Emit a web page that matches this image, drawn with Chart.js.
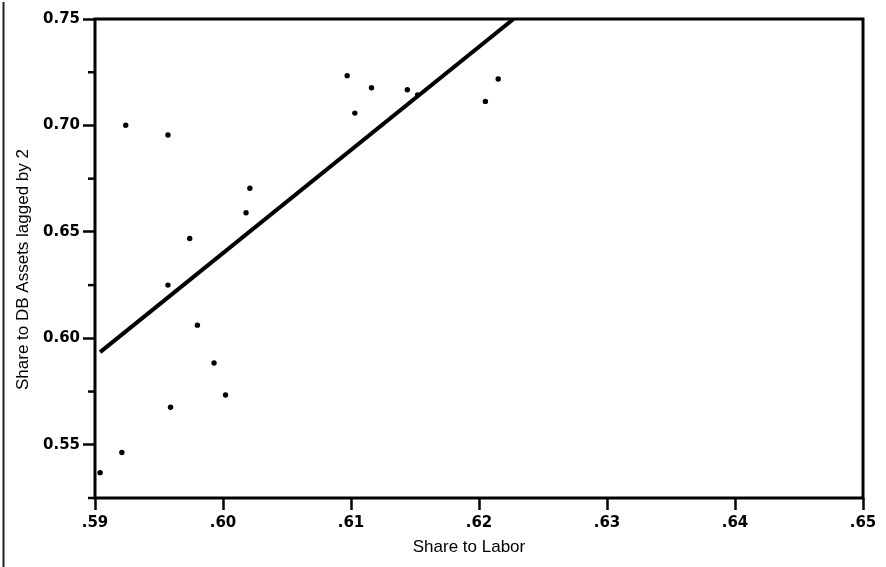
<!DOCTYPE html>
<html>
<head>
<meta charset="utf-8">
<script src="https://cdn.jsdelivr.net/npm/chart.js@4.4.1/dist/chart.umd.min.js"></script>
<style>
    html, body { margin: 0; padding: 0; background: #fff; }
    #wrap { width: 886px; height: 567px; }
</style>
</head>
<body>
<div id="wrap"><canvas id="scatterChart" width="886" height="567"></canvas></div>
<script>
// Share to labor vs. share to DB assets (lagged by 2)
const laborShare = [0.5904, 0.5921, 0.5924, 0.5957, 0.5957, 0.5959, 0.5974, 0.5980, 0.5993, 0.6002,
                    0.6018, 0.6021, 0.6097, 0.6103, 0.6116, 0.6144, 0.6152, 0.6205, 0.6215];
const dbAssetShare = [0.5369, 0.5464, 0.7001, 0.6955, 0.6250, 0.5676, 0.6469, 0.6062, 0.5884, 0.5734,
                      0.6590, 0.6705, 0.7234, 0.7058, 0.7177, 0.7168, 0.7143, 0.7113, 0.7218];

// fitted line, start and end
const fitX = [0.5904, 0.6227];
const fitY = [0.5935, 0.7500];

const xTicks = [0.59, 0.60, 0.61, 0.62, 0.63, 0.64, 0.65];
const yRange = [0.525, 0.75];

const xTitle = 'Share to Labor';
const yTitle = 'Share to DB Assets lagged by 2';

const points = laborShare.map((x, i) => ({ x: x, y: dbAssetShare[i] }));
const fitLine = fitX.map((x, i) => ({ x: x, y: fitY[i] }));

function isMajorY(v) {
    return Math.round(v * 1000) % 50 === 0;
}

// frame around the plot, short minor ticks on y, axis titles, left edge rule
const framePlugin = {
    id: 'frame',
    afterDraw(chart) {
        const { ctx, chartArea: a, scales } = chart;
        ctx.save();
        ctx.strokeStyle = '#000';
        ctx.lineWidth = 3;
        ctx.strokeRect(a.left, a.top, a.right - a.left, a.bottom - a.top);

        ctx.lineWidth = 2.5;
        scales.y.ticks.forEach(t => {
            if (isMajorY(t.value)) return;
            const py = scales.y.getPixelForValue(t.value);
            ctx.beginPath();
            ctx.moveTo(a.left - 7, py);
            ctx.lineTo(a.left, py);
            ctx.stroke();
        });

        ctx.fillStyle = '#000';
        ctx.font = '17px "Liberation Sans", Arial, sans-serif';
        ctx.textAlign = 'center';
        ctx.textBaseline = 'middle';
        ctx.fillText(xTitle, (a.left + a.right) / 2 - 10, 547);

        ctx.save();
        ctx.translate(23, (a.top + a.bottom) / 2 + 11);
        ctx.rotate(-Math.PI / 2);
        ctx.fillText(yTitle, 0, 0);
        ctx.restore();

        ctx.strokeStyle = '#222';
        ctx.lineWidth = 2;
        ctx.beginPath();
        ctx.moveTo(3.5, 2);
        ctx.lineTo(3.5, chart.height);
        ctx.stroke();
        ctx.restore();
    }
};

const whiteBg = {
    id: 'whiteBg',
    beforeDraw(chart) {
        const ctx = chart.ctx;
        ctx.save();
        ctx.fillStyle = '#fff';
        ctx.fillRect(0, 0, chart.width, chart.height);
        ctx.restore();
    }
};

const tickFont = { family: '"DejaVu Sans"', size: 15, weight: 'bold' };

new Chart(document.getElementById('scatterChart'), {
    type: 'scatter',
    data: {
        datasets: [
            {
                type: 'line',
                data: fitLine,
                borderColor: '#000',
                borderWidth: 4,
                pointRadius: 0,
                fill: false,
                tension: 0
            },
            {
                data: points,
                backgroundColor: '#000',
                borderColor: '#000',
                pointRadius: 2.7,
                pointBorderWidth: 0
            }
        ]
    },
    options: {
        responsive: false,
        animation: false,
        layout: { padding: { left: 0, top: 19, right: 23, bottom: 0 } },
        plugins: {
            legend: { display: false },
            tooltip: { enabled: false }
        },
        scales: {
            x: {
                type: 'linear',
                min: xTicks[0],
                max: xTicks[xTicks.length - 1],
                afterBuildTicks: scale => { scale.ticks = xTicks.map(v => ({ value: v })); },
                afterFit: scale => { scale.height = 69; },
                border: { display: false },
                grid: {
                    drawOnChartArea: false,
                    drawTicks: true,
                    tickLength: 12,
                    tickWidth: 2.5,
                    tickColor: '#000'
                },
                ticks: {
                    color: '#000',
                    font: tickFont,
                    padding: 4,
                    maxRotation: 0,
                    callback: v => v.toFixed(2).replace(/^0/, '')
                }
            },
            y: {
                type: 'linear',
                min: yRange[0],
                max: yRange[1],
                afterFit: scale => { scale.width = 95; },
                border: { display: false },
                grid: {
                    drawOnChartArea: false,
                    drawTicks: true,
                    tickLength: 12,
                    tickWidth: 2.5,
                    tickColor: ctx => isMajorY(ctx.tick.value) ? '#000' : 'rgba(0,0,0,0)'
                },
                ticks: {
                    stepSize: 0.025,
                    color: '#000',
                    font: tickFont,
                    padding: 3,
                    callback: v => isMajorY(v) ? v.toFixed(2) : ''
                }
            }
        }
    },
    plugins: [whiteBg, framePlugin]
});
</script>
</body>
</html>
